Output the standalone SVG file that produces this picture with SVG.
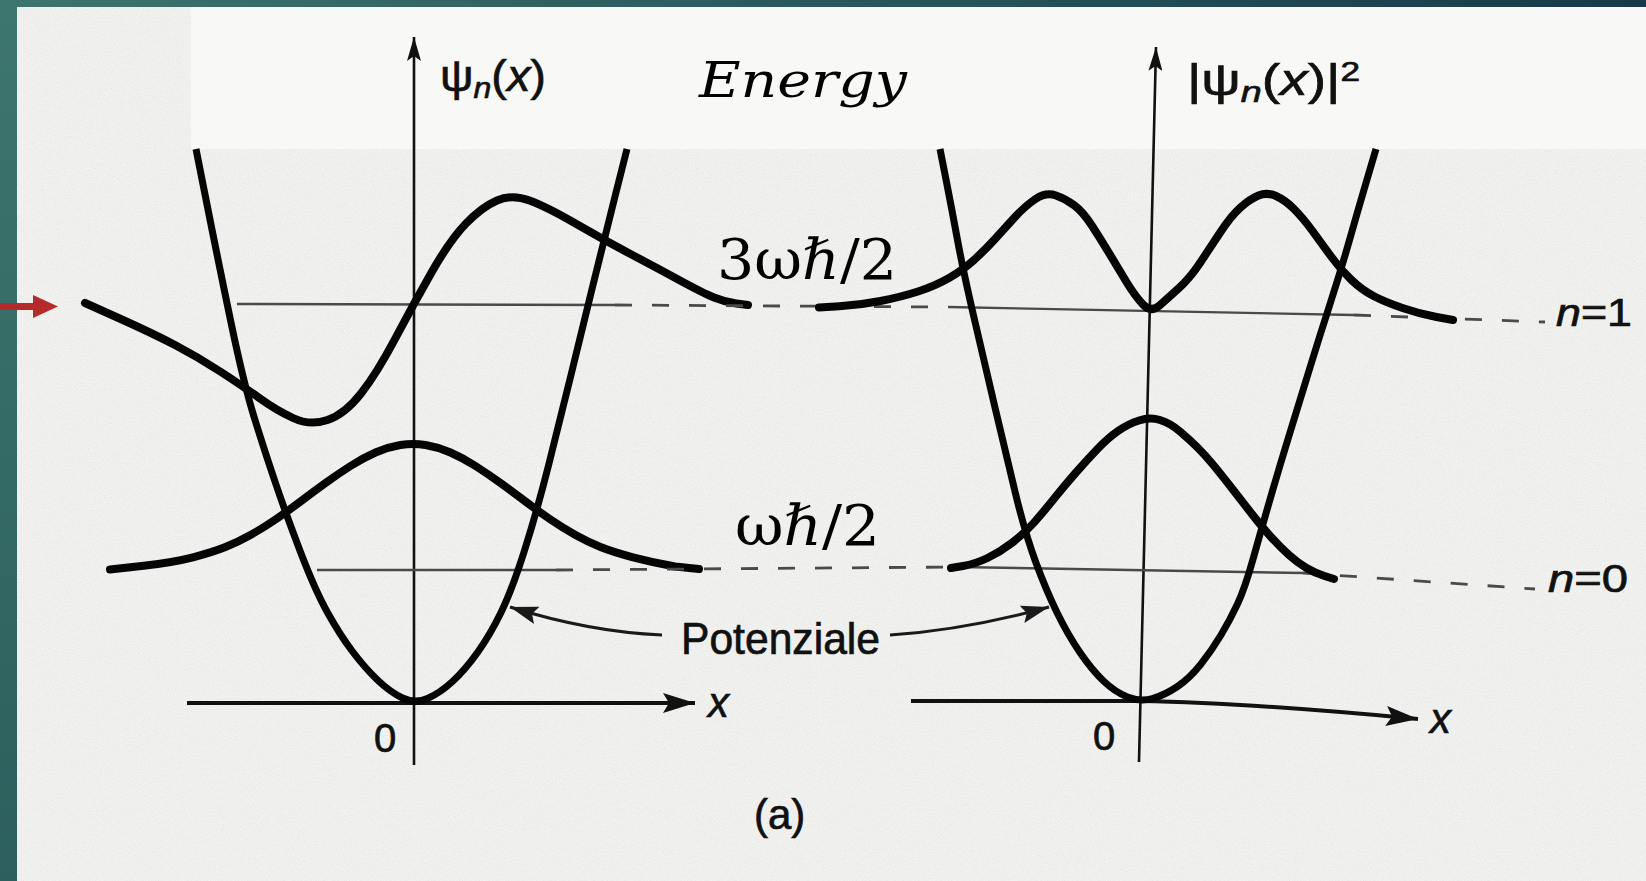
<svg xmlns="http://www.w3.org/2000/svg" width="1646" height="881" viewBox="0 0 1646 881">
<defs>
  <linearGradient id="tealTop" x1="0" y1="0" x2="1" y2="0">
    <stop offset="0" stop-color="#3d766e"/>
    <stop offset="1" stop-color="#173a4a"/>
  </linearGradient>
  <linearGradient id="tealLeft" x1="0" y1="0" x2="0" y2="1">
    <stop offset="0" stop-color="#3d766e"/>
    <stop offset="1" stop-color="#2c5f5d"/>
  </linearGradient>
  <filter id="grain" x="0" y="0" width="100%" height="100%">
    <feTurbulence type="fractalNoise" baseFrequency="0.85" numOctaves="2" seed="7"/>
    <feColorMatrix type="matrix" values="0 0 0 0 0.4  0 0 0 0 0.4  0 0 0 0 0.4  0.7 0 0 0 -0.27"/>
  </filter>
  <marker id="arrAxis" markerUnits="userSpaceOnUse" markerWidth="26" markerHeight="14" refX="24" refY="7" orient="auto" viewBox="0 0 26 14">
    <path d="M0,0 L24,7 L0,14 L5,7 z" fill="#111"/>
  </marker>
  <marker id="arrX" markerUnits="userSpaceOnUse" markerWidth="34" markerHeight="22" refX="32" refY="11" orient="auto" viewBox="0 0 34 22">
    <path d="M0,1 L32,11 L0,21 L6,11 z" fill="#111"/>
  </marker>
  <marker id="arrAnn" markerUnits="userSpaceOnUse" markerWidth="30" markerHeight="20" refX="28" refY="10" orient="auto" viewBox="0 0 30 20">
    <path d="M0,1 L28,10 L0,19 L5,10 z" fill="#1a1a1a"/>
  </marker>
  <style>
    .curve{fill:none;stroke:#050505;stroke-width:8;stroke-linecap:round;stroke-linejoin:round}
    .par{fill:none;stroke:#050505;stroke-width:7;stroke-linecap:butt;stroke-linejoin:round}
    .axis{fill:none;stroke:#111;stroke-width:2.6}
    .xaxis{fill:none;stroke:#111;stroke-width:4}
    .lvl{fill:none;stroke:#4a4a4a;stroke-width:2.4}
    .dash{stroke-dasharray:17 20;stroke-width:2.8}
    .ann{fill:none;stroke:#1a1a1a;stroke-width:3}
    .lbl{font-family:"Liberation Sans",Arial,sans-serif;fill:#111;stroke:#111;stroke-width:0.7}
    .math{font-family:"DejaVu Serif","Liberation Serif",serif;fill:#000}
  </style>
</defs>

<g id="frame">
  <rect x="0" y="0" width="1646" height="881" fill="url(#tealLeft)"/>
  <rect x="0" y="0" width="1646" height="7" fill="url(#tealTop)"/>
  <rect x="17" y="7" width="1629" height="874" fill="#f2f2f0"/>
  <rect x="17" y="7" width="1629" height="874" filter="url(#grain)" opacity="0.45"/>
  <rect x="191" y="7" width="1455" height="142" fill="#f8f8f6"/>
</g>

<g id="left-plot">
  <path class="axis" d="M414,765 L414,37" marker-end="url(#arrAxis)"/>
  <path class="xaxis" d="M187,703 L695,703" marker-end="url(#arrX)"/>
  <path class="lvl" d="M237,304 L615,305"/>
  <path class="lvl" d="M317,570 L556,570"/>
  <path class="par" d="M196,149 L207,204.5 Q218,260 231,322.5 Q244,385 255,420 Q266,455 276,484.5 Q286,514 300.5,552 Q315,590 327.5,612.5 Q340,635 352.5,651.5 Q365,668 377.5,680 Q390,692 402.5,698 Q415,704 427.5,698.5 Q440,693 452.5,681.5 Q465,670 477.5,652.5 Q490,635 501,612.5 Q512,590 524.5,550.5 Q537,511 548.5,465.5 Q560,420 571,375 Q582,330 593,285 Q604,240 615.5,194.5 L627,149"/>
  <path class="curve" d="M85,303 L118.5,318 Q152,333 175,345 Q198,357 221,372 Q244,387 260,398.5 Q276,410 293,418 Q310,426 327.5,420 Q345,414 361,393.5 Q377,373 395,339 Q413,305 431.5,272.5 Q450,240 466,223.5 Q482,207 497,200.5 Q512,194 529.5,200.5 Q547,207 575.5,223.5 Q604,240 630.5,254 Q657,268 680,280.5 Q703,293 714,297.5 Q725,302 736.5,303.5 L748,305"/>
  <path class="curve" d="M110,569.5 L141.5,566 Q173,562.5 193,557.3 Q213,552 225.5,547 Q238,542 250.5,535 Q263,528 275.5,519.5 Q288,511 300.5,501.5 Q313,492 325.5,483 Q338,474 350.5,466 Q363,458 375.5,452.5 Q388,447 400.5,445 Q413,443 425.5,445 Q438,447 450.5,452.5 Q463,458 475.5,466 Q488,474 500.5,483 Q513,492 525.5,501.5 Q538,511 550.5,519.5 Q563,528 575.5,535 Q588,542 600.5,547 Q613,552 633,557.3 Q653,562.5 675,566.5 L699,569"/>
</g>

<g id="levels-between">
  <path class="lvl dash" d="M615,305 L948,307"/>
  <path class="lvl dash" d="M556,570 L958,567"/>
</g>

<g id="right-plot">
  <path class="axis" d="M1139,762 L1156,47" marker-end="url(#arrAxis)"/>
  <path class="xaxis" d="M911,701 L1140,701 Q1250,703 1418,719" marker-end="url(#arrX)"/>
  <path class="lvl" d="M948,307 L1354,315"/>
  <path class="lvl dash" d="M1354,315 L1545,322"/>
  <path class="lvl" d="M958,567 L1303,573"/>
  <path class="lvl dash" d="M1303,573 L1535,589"/>
  <path class="par" d="M940,149 L946,179.5 Q952,210 957.5,240 Q963,270 974,317.5 Q985,365 995,407.5 Q1005,450 1015,491.5 Q1025,533 1035.5,561.5 Q1046,590 1057,612.5 Q1068,635 1080,652.5 Q1092,670 1103.5,681 Q1115,692 1127.5,697 Q1140,702 1152.5,698.5 Q1165,695 1177.5,686.5 Q1190,678 1201,664 Q1212,650 1221,635 Q1230,620 1237.5,604 Q1245,588 1253.5,557.5 Q1262,527 1271,496 Q1280,465 1290,432.5 Q1300,400 1310,367.5 Q1320,335 1330.5,302.5 Q1341,270 1349.5,240 Q1358,210 1367,179.5 L1376,149"/>
  <path class="curve" d="M819,307.5 L839.5,306.25 Q860,305 880.5,301 Q901,297 918,291.5 Q935,286 949,278 Q963,270 974,260 Q985,250 995,239 Q1005,228 1015,217 Q1025,206 1035.5,199 Q1046,192 1056,195.5 Q1066,199 1074.5,205.5 Q1083,212 1091.5,225 Q1100,238 1109,253 Q1118,268 1126.5,282 Q1135,296 1143,304.5 Q1151,313 1159.5,305.5 Q1168,298 1179,288 Q1190,278 1200,263 Q1210,248 1220.5,232 Q1231,216 1240.5,207.5 Q1250,199 1258.5,195.5 Q1267,192 1276,196 Q1285,200 1294,209 Q1303,218 1312.5,231 Q1322,244 1331.5,257 Q1341,270 1351.5,280 Q1362,290 1373.5,296 Q1385,302 1402.5,308 Q1420,314 1436.5,317 L1453,320"/>
  <path class="curve" d="M951,568 L963,566 Q975,564 987.5,558 Q1000,552 1012.5,542.5 Q1025,533 1035,521.5 Q1045,510 1055,497.5 Q1065,485 1076,472.5 Q1087,460 1097.5,449 Q1108,438 1118,431 Q1128,424 1139,420.5 Q1150,417 1160,420 Q1170,423 1180,431.5 Q1190,440 1197.5,447.5 Q1205,455 1212.5,464 Q1220,473 1230.5,486.5 Q1241,500 1251.5,513.5 Q1262,527 1271,537 Q1280,547 1289,555 Q1298,563 1306.5,568 Q1315,573 1324.5,576 L1334,579"/>
</g>

<g id="connectors">
  <path class="ann" d="M662,635 Q590,632 510,607" marker-end="url(#arrAnn)"/>
  <path class="ann" d="M890,635 Q965,630 1049,607" marker-end="url(#arrAnn)"/>
  <g id="red-arrow" fill="#b52a2a">
    <rect x="0" y="303" width="36" height="7"/>
    <polygon points="33,295 58,306.5 33,318"/>
  </g>
</g>

<g id="labels">
  <text class="lbl" x="440" y="91" font-size="44" textLength="106" lengthAdjust="spacingAndGlyphs">ψ<tspan font-style="italic" font-size="30" dy="7">n</tspan><tspan dy="-7">(</tspan><tspan font-style="italic">x</tspan>)</text>
  <text class="lbl" x="1187" y="95" font-size="44" textLength="173" lengthAdjust="spacingAndGlyphs">|ψ<tspan font-style="italic" font-size="30" dy="7">n</tspan><tspan dy="-7">(</tspan><tspan font-style="italic">x</tspan>)|<tspan font-size="28" dy="-14">2</tspan></text>
  <text class="math" x="699" y="97" font-size="48" font-style="italic" textLength="208" lengthAdjust="spacingAndGlyphs">Energy</text>
  <text class="math" x="717" y="279" font-size="56" textLength="180" lengthAdjust="spacingAndGlyphs">3ω<tspan font-style="italic">ℏ</tspan>/2</text>
  <text class="math" x="735" y="545" font-size="56" textLength="145" lengthAdjust="spacingAndGlyphs">ω<tspan font-style="italic">ℏ</tspan>/2</text>
  <text class="lbl" x="681" y="654" font-size="44" textLength="199" lengthAdjust="spacingAndGlyphs">Potenziale</text>
  <text class="lbl" x="708" y="717" font-size="42" font-style="italic">x</text>
  <text class="lbl" x="1430" y="733" font-size="42" font-style="italic">x</text>
  <text class="lbl" x="374" y="752" font-size="40">0</text>
  <text class="lbl" x="1093" y="750" font-size="40">0</text>
  <text class="lbl" x="1556" y="326" font-size="38" textLength="76" lengthAdjust="spacingAndGlyphs"><tspan font-style="italic">n</tspan>=1</text>
  <text class="lbl" x="1548" y="592" font-size="38" textLength="80" lengthAdjust="spacingAndGlyphs"><tspan font-style="italic">n</tspan>=0</text>
  <text class="lbl" x="754" y="829" font-size="42">(a)</text>
</g>
</svg>
